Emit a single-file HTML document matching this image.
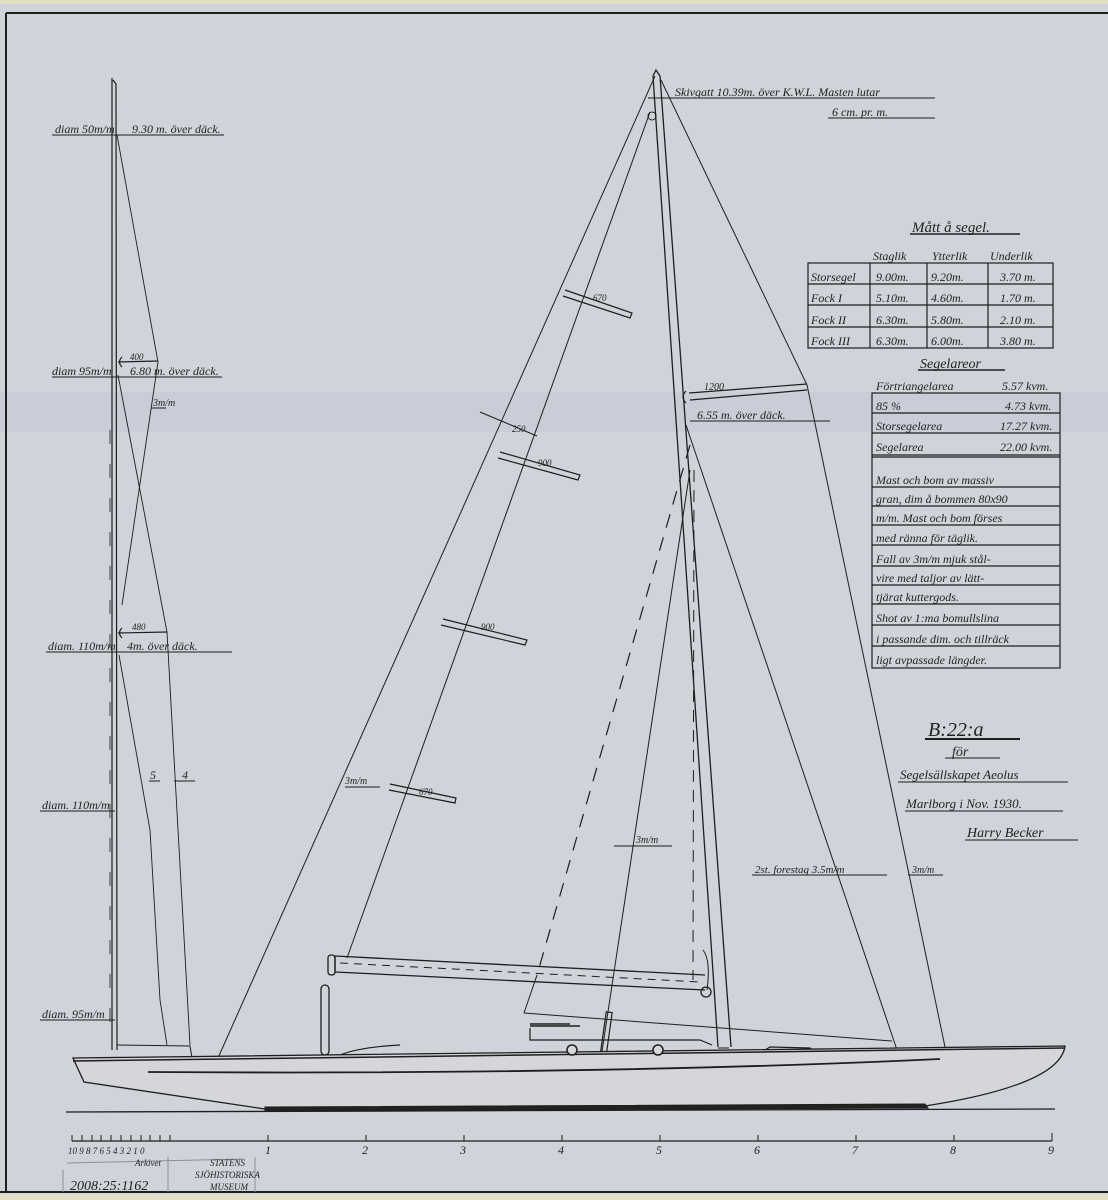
<!DOCTYPE html>
<html><head><meta charset="utf-8"><style>
html,body{margin:0;padding:0;background:#d0d3da;}
svg{display:block}
text{font-family:"Liberation Serif",serif;font-style:italic;fill:#222;}
</style></head><body>
<svg width="1108" height="1200" viewBox="0 0 1108 1200" xmlns="http://www.w3.org/2000/svg">
<rect width="1108" height="1200" fill="#d0d3da"/>
<rect x="0" y="0" width="1108" height="4" fill="#e4e0c4"/>
<rect x="0" y="392" width="1108" height="40" fill="#c9cdd7"/>
<rect x="0" y="1194" width="1108" height="6" fill="#e0ddc8"/>
<g stroke="#1e1e1e" fill="none">
<line x1="6" y1="13" x2="1108" y2="13" stroke-width="2"/>
<line x1="6" y1="13" x2="6" y2="1192" stroke-width="2"/>
<line x1="0" y1="1192" x2="1108" y2="1192" stroke-width="2"/>

<!-- left mast -->
<line x1="112" y1="78" x2="112" y2="1050" stroke-width="1.2"/>
<path d="M113,80 L116,84 L117,1050" stroke-width="1.2"/>
<line x1="110" y1="430" x2="110" y2="1030" stroke-width="0.8" stroke-dasharray="14,20"/>
<polyline points="117,135 158,362 122,605" stroke-width="0.9"/>
<polyline points="118,375 167,632 190,1045" stroke-width="0.9"/>
<polyline points="119,655 150,830 160,1000 167,1045" stroke-width="0.9"/>
<path d="M122,357 q-5,5 0,10 M118,362 L158,361" stroke-width="1.2"/>
<path d="M122,628 q-5,5 0,10 M118,633 L167,632" stroke-width="1.2"/>
<path d="M117,1045 L190,1046 L192,1058" stroke-width="1"/>
<line x1="52" y1="135" x2="224" y2="135"/>
<line x1="52" y1="377" x2="222" y2="377"/>
<line x1="46" y1="652" x2="232" y2="652"/>
<line x1="40" y1="811" x2="115" y2="811"/>
<line x1="40" y1="1020" x2="115" y2="1020"/>
<line x1="149" y1="781" x2="160" y2="781"/>
<line x1="174" y1="781" x2="195" y2="781"/>
<line x1="151" y1="408" x2="166" y2="408"/>

<!-- main mast -->
<path d="M653,76 L656,70 L660,76 L731,1047 M653,76 L718,1047" stroke-width="1.3"/>
<line x1="655" y1="76" x2="218" y2="1058" stroke-width="1"/>
<line x1="650" y1="112" x2="347" y2="958" stroke-width="1"/>
<circle cx="652" cy="116" r="4"/>
<polyline points="661,80 807,385 945,1047" stroke-width="1"/>
<line x1="686" y1="425" x2="897" y2="1050" stroke-width="1"/>
<path d="M689,393 L807,384 M690,400 L807,390 M686,391 q-6,6 0,12" stroke-width="1.2"/>
<line x1="690" y1="421" x2="830" y2="421"/>
<!-- jib -->
<line x1="690" y1="445" x2="537" y2="975" stroke-width="1.2" stroke-dasharray="14,10"/>
<line x1="537" y1="975" x2="524" y2="1013" stroke-width="1"/>
<line x1="524" y1="1013" x2="892" y2="1041" stroke-width="1"/>
<line x1="694" y1="470" x2="693" y2="980" stroke-width="1" stroke-dasharray="12,8"/>
<line x1="690" y1="470" x2="601" y2="1058" stroke-width="1"/>
<rect x="603" y="1012" width="6" height="46" transform="rotate(8 606 1035)" stroke-width="1.2"/>
<line x1="614" y1="846" x2="672" y2="846"/>
<line x1="752" y1="875" x2="887" y2="875"/>
<line x1="908" y1="875" x2="943" y2="875"/>
<g stroke-width="1.2">
<path d="M565,290 L632,313 L630,318 L563,296"/>
<path d="M500,452 L580,475 L578,480 L498,458"/>
<path d="M443,619 L527,640 L525,645 L441,625"/>
<path d="M390,784 L456,798 L455,803 L389,790"/>
</g>
<line x1="480" y1="412" x2="537" y2="436"/>
<line x1="345" y1="787" x2="380" y2="787"/>
<!-- boom -->
<path d="M335,956 L705,975 M335,972 L705,990 M335,956 L335,972" stroke-width="1.3"/>
<line x1="340" y1="963" x2="700" y2="982" stroke-dasharray="8,6"/>
<rect x="328" y="955" width="7" height="20" rx="3" stroke-width="1.3"/>
<rect x="321" y="985" width="8" height="70" rx="4" stroke-width="1.3"/>
<circle cx="706" cy="992" r="5" stroke-width="1.3"/>
<path d="M703,950 q8,10 4,40" stroke-width="1"/>
<!-- house & hull -->
<path d="M530,1028 L530,1040 L700,1040 L712,1045" stroke-width="1.2"/>
<path d="M530,1026 L580,1026 M530,1024 L570,1024" stroke-width="1.5"/>
<path d="M718,1048 L729,1048" />
<path d="M762,1052 L770,1047 L810,1048 L815,1052" stroke-width="1.2"/>
<path d="M340,1055 q20,-8 60,-10" stroke-width="1.2"/>
<path d="M73,1058 L1065,1046 Q1060,1085 925,1106 L265,1109 L84,1082 Z" stroke-width="1.3" fill="#d4d6dc"/>
<line x1="73" y1="1061" x2="1065" y2="1048" stroke-width="1.5"/>
<circle cx="572" cy="1050" r="5" stroke-width="1.5" fill="#d4d6dc"/>
<circle cx="658" cy="1050" r="5" stroke-width="1.5" fill="#d4d6dc"/>
<path d="M148,1072 Q600,1075 940,1059" stroke-width="1.8"/>
<path d="M265,1107 L925,1104 L928,1108 L265,1111 Z" fill="#222" stroke-width="1"/>
<line x1="66" y1="1112" x2="1055" y2="1109" stroke-width="1.3"/>
<!-- scale -->
<line x1="72" y1="1141" x2="1052" y2="1141" stroke-width="1.3"/>
<g stroke-width="1">
<line x1="72" y1="1135" x2="72" y2="1141"/><line x1="82" y1="1135" x2="82" y2="1141"/><line x1="92" y1="1135" x2="92" y2="1141"/><line x1="101" y1="1135" x2="101" y2="1141"/><line x1="111" y1="1135" x2="111" y2="1141"/><line x1="121" y1="1135" x2="121" y2="1141"/><line x1="131" y1="1135" x2="131" y2="1141"/><line x1="141" y1="1135" x2="141" y2="1141"/><line x1="150" y1="1135" x2="150" y2="1141"/><line x1="160" y1="1135" x2="160" y2="1141"/><line x1="170" y1="1135" x2="170" y2="1141"/>
<line x1="268" y1="1135" x2="268" y2="1141"/><line x1="366" y1="1135" x2="366" y2="1141"/><line x1="464" y1="1135" x2="464" y2="1141"/><line x1="562" y1="1135" x2="562" y2="1141"/><line x1="660" y1="1135" x2="660" y2="1141"/><line x1="758" y1="1135" x2="758" y2="1141"/><line x1="856" y1="1135" x2="856" y2="1141"/><line x1="954" y1="1135" x2="954" y2="1141"/><line x1="1052" y1="1133" x2="1052" y2="1141"/>
</g>
<line x1="67" y1="1163" x2="243" y2="1159" stroke="#8a8f9a"/>
<path d="M63,1170 L63,1192 M168,1157 L168,1192 M255,1157 L255,1192" stroke="#8a8f9a"/>
<g stroke-width="1.2">
<rect x="808" y="263" width="245" height="85"/>
<line x1="808" y1="284" x2="1053" y2="284"/><line x1="808" y1="305" x2="1053" y2="305"/><line x1="808" y1="327" x2="1053" y2="327"/>
<line x1="870" y1="263" x2="870" y2="348"/><line x1="927" y1="263" x2="927" y2="348"/><line x1="988" y1="263" x2="988" y2="348"/>
<rect x="872" y="393" width="188" height="275"/>
<line x1="872" y1="413" x2="1060" y2="413"/><line x1="872" y1="433" x2="1060" y2="433"/><line x1="872" y1="455" x2="1060" y2="455"/><line x1="872" y1="457" x2="1060" y2="457"/>
<line x1="872" y1="487" x2="1060" y2="487"/><line x1="872" y1="506" x2="1060" y2="506"/><line x1="872" y1="525" x2="1060" y2="525"/><line x1="872" y1="545" x2="1060" y2="545"/><line x1="872" y1="566" x2="1060" y2="566"/><line x1="872" y1="585" x2="1060" y2="585"/><line x1="872" y1="604" x2="1060" y2="604"/><line x1="872" y1="625" x2="1060" y2="625"/><line x1="872" y1="646" x2="1060" y2="646"/>
</g>
<line x1="910" y1="234" x2="1020" y2="234" stroke-width="1.5"/>
<line x1="918" y1="370" x2="1005" y2="370" stroke-width="1.5"/>
<line x1="648" y1="98" x2="935" y2="98"/>
<line x1="828" y1="118" x2="935" y2="118"/>
<line x1="925" y1="739" x2="1020" y2="739" stroke-width="2"/>
<line x1="945" y1="758" x2="1000" y2="758"/>
<line x1="898" y1="782" x2="1068" y2="782"/>
<line x1="905" y1="811" x2="1063" y2="811"/>
<line x1="965" y1="840" x2="1078" y2="840"/>
</g>

<g font-size="12">
<text x="55" y="133">diam 50m/m</text>
<text x="132" y="133">9.30 m. över däck.</text>
<text x="52" y="375">diam 95m/m</text>
<text x="130" y="375">6.80 m. över däck.</text>
<text x="130" y="360" font-size="9">400</text>
<text x="153" y="406" font-size="10">3m/m</text>
<text x="132" y="630" font-size="9">480</text>
<text x="48" y="650">diam. 110m/m</text>
<text x="127" y="650">4m. över däck.</text>
<text x="42" y="809">diam. 110m/m</text>
<text x="42" y="1018">diam. 95m/m</text>
<text x="150" y="779">5</text><text x="182" y="779">4</text>
<text x="675" y="96">Skivgatt 10.39m. över K.W.L. Masten lutar</text>
<text x="832" y="116">6 cm. pr. m.</text>
<text x="593" y="301" font-size="9">670</text>
<text x="538" y="466" font-size="9">900</text>
<text x="481" y="630" font-size="9">900</text>
<text x="419" y="795" font-size="9">670</text>
<text x="512" y="432" font-size="9">250</text>
<text x="345" y="784" font-size="10">3m/m</text>
<text x="704" y="390" font-size="10">1200</text>
<text x="697" y="419">6.55 m. över däck.</text>
<text x="636" y="843" font-size="10">3m/m</text>
<text x="755" y="873" font-size="11">2st. forestag 3.5m/m</text>
<text x="912" y="873" font-size="10">3m/m</text>
<text x="912" y="232" font-size="15">Mått å segel.</text>
<text x="873" y="260">Staglik</text><text x="932" y="260">Ytterlik</text><text x="990" y="260">Underlik</text>
<text x="811" y="281">Storsegel</text><text x="876" y="281">9.00m.</text><text x="931" y="281">9.20m.</text><text x="1000" y="281">3.70 m.</text>
<text x="811" y="302">Fock I</text><text x="876" y="302">5.10m.</text><text x="931" y="302">4.60m.</text><text x="1000" y="302">1.70 m.</text>
<text x="811" y="324">Fock II</text><text x="876" y="324">6.30m.</text><text x="931" y="324">5.80m.</text><text x="1000" y="324">2.10 m.</text>
<text x="811" y="345">Fock III</text><text x="876" y="345">6.30m.</text><text x="931" y="345">6.00m.</text><text x="1000" y="345">3.80 m.</text>
<text x="920" y="368" font-size="14">Segelareor</text>
<text x="876" y="390">Förtriangelarea</text><text x="1002" y="390">5.57 kvm.</text>
<text x="876" y="410">85 %</text><text x="1005" y="410">4.73 kvm.</text>
<text x="876" y="430">Storsegelarea</text><text x="1000" y="430">17.27 kvm.</text>
<text x="876" y="451">Segelarea</text><text x="1000" y="451">22.00 kvm.</text>
<text x="876" y="484">Mast och bom av massiv</text>
<text x="876" y="503">gran, dim å bommen 80x90</text>
<text x="876" y="522">m/m. Mast och bom förses</text>
<text x="876" y="542">med ränna för täglik.</text>
<text x="876" y="563">Fall av 3m/m mjuk stål-</text>
<text x="876" y="582">vire med taljor av lätt-</text>
<text x="876" y="601">tjärat kuttergods.</text>
<text x="876" y="622">Shot av 1:ma bomullslina</text>
<text x="876" y="643">i passande dim. och tillräck</text>
<text x="876" y="664">ligt avpassade längder.</text>
<text x="928" y="736" font-size="20">B:22:a</text>
<text x="952" y="756" font-size="14">för</text>
<text x="900" y="779" font-size="13">Segelsällskapet Aeolus</text>
<text x="906" y="808" font-size="13">Marlborg i Nov. 1930.</text>
<text x="967" y="837" font-size="14">Harry Becker</text>
<g font-size="9"><text x="68" y="1154">10 9 8 7 6 5 4 3 2 1 0</text></g>
<text x="265" y="1154">1</text><text x="362" y="1154">2</text><text x="460" y="1154">3</text><text x="558" y="1154">4</text><text x="656" y="1154">5</text><text x="754" y="1154">6</text><text x="852" y="1154">7</text><text x="950" y="1154">8</text><text x="1048" y="1154">9</text>
</g>
<g font-size="9" style="font-style:normal">
<text x="210" y="1166" fill="#7d8390">STATENS</text>
<text x="195" y="1178" fill="#7d8390">SJÖHISTORISKA</text>
<text x="210" y="1190" fill="#7d8390">MUSEUM</text>
<text x="135" y="1166" fill="#7d8390">Arkivet</text>
<text x="70" y="1190" font-size="14" fill="#8a8f9a" style="font-style:italic">2008:25:1162</text>
</g>
</svg>
</body></html>
